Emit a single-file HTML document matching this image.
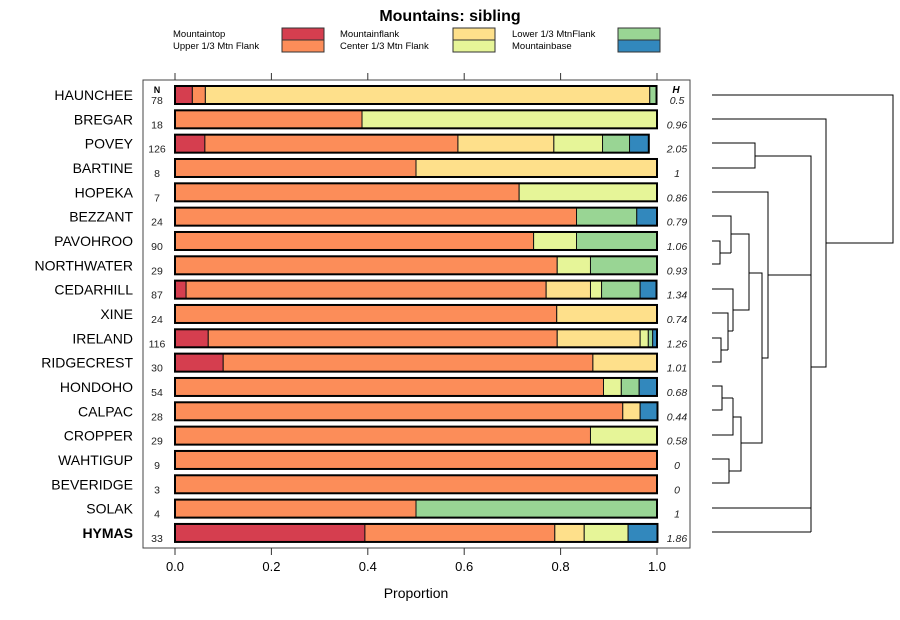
<!DOCTYPE html>
<html><head><meta charset="utf-8"><style>
body{margin:0;background:#fff;}
svg{display:block;font-family:"Liberation Sans",sans-serif;}
</style></head><body>
<svg id="c" width="900" height="620" viewBox="0 0 900 620">
<text x="450" y="21" text-anchor="middle" font-size="16" font-weight="bold">Mountains: sibling</text>
<g id="legend"></g>
<rect x="143" y="80" width="547" height="468" fill="none" stroke="#444" stroke-width="1"/>
<g id="bars"></g>
<g id="axis"></g>
<text x="416" y="598" text-anchor="middle" font-size="14">Proportion</text>
<text x="157" y="93" text-anchor="middle" font-size="9" font-weight="bold">N</text>
<text x="676" y="93" text-anchor="middle" font-size="10" font-weight="bold" font-style="italic">H</text>
<g id="dendro" stroke="#000" stroke-width="1" fill="none"></g>
</svg>
<script>
const categories=["Mountaintop","Upper 1/3 Mtn Flank","Mountainflank","Center 1/3 Mtn Flank","Lower 1/3 MtnFlank","Mountainbase"];
const colors=["#d53e4f","#fc8d59","#fee08b","#e6f598","#99d594","#3288bd"];
const sites=["HAUNCHEE","BREGAR","POVEY","BARTINE","HOPEKA","BEZZANT","PAVOHROO","NORTHWATER","CEDARHILL","XINE","IRELAND","RIDGECREST","HONDOHO","CALPAC","CROPPER","WAHTIGUP","BEVERIDGE","SOLAK","HYMAS"];
const counts=[78,18,126,8,7,24,90,29,87,24,116,30,54,28,29,9,3,4,33];
const diversity=["0.5","0.96","2.05","1","0.86","0.79","1.06","0.93","1.34","0.74","1.26","1.01","0.68","0.44","0.58","0","0","1","1.86"];
const mountaintop=[0.036,0,0.062,0,0,0,0,0,0.023,0,0.069,0.1,0,0,0,0,0,0,0.394];
const upperFlank=[0.027,0.388,0.525,0.5,0.714,0.833,0.744,0.793,0.747,0.792,0.724,0.767,0.889,0.929,0.862,1,1,0.5,0.394];
const mountainflank=[0.922,0,0.199,0.5,0,0,0,0,0.092,0.208,0.172,0.133,0,0.036,0,0,0,0,0.061];
const centerFlank=[0,0.612,0.101,0,0.286,0,0.089,0.069,0.023,0,0.017,0,0.037,0,0.138,0,0,0,0.091];
const lowerFlank=[0.014,0,0.056,0,0,0.125,0.167,0.138,0.08,0,0.009,0,0.037,0,0,0,0,0.5,0];
const mountainbase=[0,0,0.04,0,0,0.042,0,0,0.034,0,0.009,0,0.037,0.036,0,0,0,0,0.061];
const series=[mountaintop,upperFlank,mountainflank,centerFlank,lowerFlank,mountainbase];
const ticks=[0,0.2,0.4,0.6,0.8,1.0];
const tickLabels=["0.0","0.2","0.4","0.6","0.8","1.0"];
const NS="http://www.w3.org/2000/svg";
const X0=175,X1=657;
const xs=v=>X0+v*(X1-X0);
const ys=i=>95+i*24.33;
function mk(tag,attrs,parent,txt){const e=document.createElementNS(NS,tag);for(const k in attrs)e.setAttribute(k,attrs[k]);if(txt!==undefined)e.textContent=txt;parent.appendChild(e);return e;}
// legend
const lg=document.getElementById('legend');
const lpos=[[173,282],[173,282],[340,453],[340,453],[512,618],[512,618]];
categories.forEach((c,k)=>{
 const [tx,bx]=lpos[k];const yy=k%2===0?28:40;
 const t=mk('text',{x:tx,y:yy+9,'font-size':9.5},lg,c);
 
 
 const r=mk('rect',{x:bx,y:yy,width:42,height:12,fill:colors[k],stroke:'#333','stroke-width':1},lg);
 
 
});
// bars
const bg=document.getElementById('bars');
sites.forEach((s,i)=>{
 const yc=ys(i);
 const lab=mk('text',{x:133,y:yc+5,'text-anchor':'end','font-size':14,'font-weight':s==="HYMAS"?'bold':'normal'},bg,s);
 
 
 const n=mk('text',{x:157,y:yc+9,'text-anchor':'middle','font-size':10.5,fill:'#222'},bg,counts[i]);
 
 
 const h=mk('text',{x:677,y:yc+9,'text-anchor':'middle','font-size':10.5,'font-style':'italic',fill:'#222'},bg,diversity[i]);
 
 
 let cum=0;
 series.forEach((arr,k)=>{
  const v=arr[i];if(v<=0)return;
  const r=mk('rect',{x:xs(cum),y:yc-9,width:xs(cum+v)-xs(cum),height:18,fill:colors[k],stroke:'#111','stroke-width':1},bg);
  
  
  cum+=v;
 });
 const o=mk('rect',{x:xs(0),y:yc-9,width:xs(cum)-xs(0),height:18,fill:'none',stroke:'#000','stroke-width':2},bg);
 
 
});
// axis
const ax=document.getElementById('axis');
ticks.forEach((t,j)=>{
 mk('line',{x1:xs(t),x2:xs(t),y1:548,y2:555,stroke:'#333'},ax);
 mk('line',{x1:xs(t),x2:xs(t),y1:73,y2:80,stroke:'#333'},ax);
 const tl=mk('text',{x:xs(t),y:571,'text-anchor':'middle','font-size':13},ax,tickLabels[j]);
 
 
});
// dendrogram (merge structure)
const dg=document.getElementById('dendro');
const segs=[
[[712,95],[893,95],[893,243],[838,243]],
[[712,119],[826,119],[826,367],[811,367]],
[[712,143],[755,143],[755,168],[712,168]],[[755,156],[811,156],[811,532]],
[[712,192],[768,192],[768,358],[762,358]],[[768,275],[811,275]],
[[712,241],[720,241],[720,264],[712,264]],[[720,253],[731,253]],
[[712,216],[731,216],[731,253]],[[731,234],[749,234],[749,310],[733,310]],
[[712,338],[721,338],[721,362],[712,362]],[[721,350],[728,350]],
[[712,313],[728,313],[728,350]],[[728,331],[733,331]],
[[712,289],[733,289],[733,331]],[[749,273],[762,273],[762,443],[741,443]],
[[712,386],[722,386],[722,410],[712,410]],[[722,398],[733,398]],
[[712,435],[733,435],[733,398]],[[733,417],[741,417],[741,471],[729,471]],
[[712,459],[729,459],[729,483],[712,483]],
[[712,508],[811,508]],[[712,532],[811,532]],[[811,367],[826,367]],[[826,243],[893,243]]
];
segs.forEach(p=>{const l=mk('polyline',{points:p.map(q=>q.join(',')).join(' ')},dg);
 
 });
</script>
</body></html>
